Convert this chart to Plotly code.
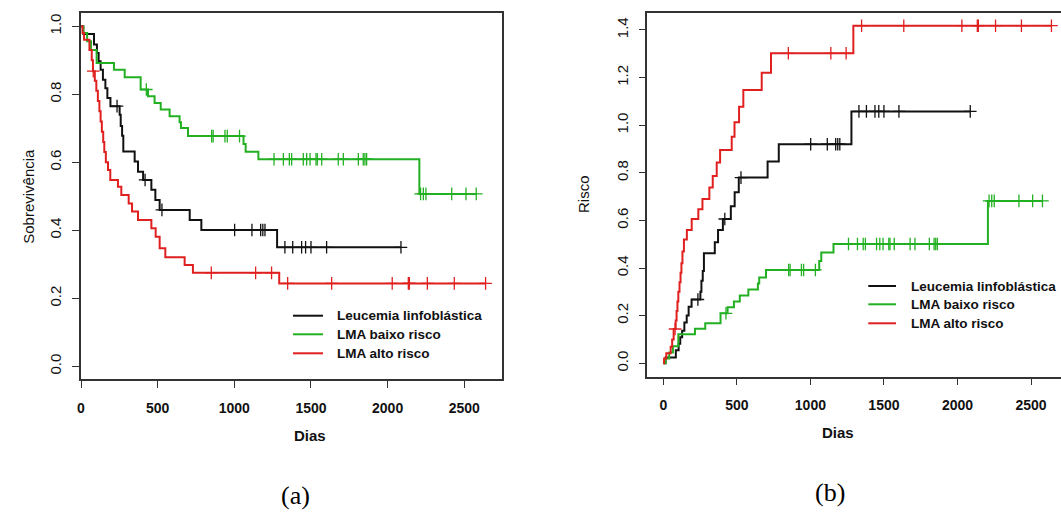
import plotly.graph_objects as go
import bisect

# ---------------- data ----------------
groups = ["Leucemia linfoblástica", "LMA baixo risco", "LMA alto risco"]
colors = ["#111111", "#22b022", "#e01f1f"]

# (a) Kaplan-Meier survival
leuc_t = [0, 15, 85, 104, 115, 128, 143, 159, 172, 192, 252, 259, 268, 276, 350, 372, 405, 459, 485, 513, 709, 785, 1279]
leuc_s = [1.0, 0.977, 0.946, 0.921, 0.897, 0.872, 0.843, 0.818, 0.789, 0.765, 0.740, 0.707, 0.678, 0.632, 0.602, 0.572, 0.548, 0.519, 0.489, 0.460, 0.430, 0.401, 0.350]
leuc_cens = [235, 418, 528, 1002, 1115, 1172, 1186, 1200, 1330, 1381, 1439, 1465, 1500, 1602, 2087]

baixo_t = [0, 15, 40, 65, 102, 215, 285, 389, 437, 480, 520, 578, 643, 652, 698, 1060, 1074, 1157, 2207]
baixo_s = [1.0, 0.980, 0.956, 0.930, 0.892, 0.872, 0.850, 0.814, 0.794, 0.774, 0.755, 0.735, 0.718, 0.701, 0.677, 0.654, 0.631, 0.609, 0.507]
baixo_cens = [426, 852, 862, 939, 954, 1034, 1259, 1320, 1359, 1374, 1450, 1472, 1494, 1533, 1541, 1570,
              1678, 1711, 1809, 1841, 1852, 1863, 2215, 2233, 2250, 2418, 2511, 2578]

alto_t = [0, 10, 20, 55, 70, 78, 90, 100, 110, 120, 128, 136, 145, 152, 162, 176, 191, 241, 263, 311, 333, 372, 459, 487, 513, 550, 676, 730, 1293]
alto_s = [1.0, 0.98, 0.96, 0.93, 0.90, 0.868, 0.84, 0.81, 0.78, 0.75, 0.72, 0.69, 0.66, 0.63, 0.60, 0.577, 0.548, 0.528, 0.504, 0.479, 0.455, 0.430, 0.406, 0.381, 0.347, 0.321, 0.298, 0.275, 0.244]
alto_cens = [80, 850, 1139, 1243, 1348, 1635, 2030, 2135, 2142, 2259, 2435, 2639]

# (b) cumulative hazard
leuc_h = [0.0, 0.024, 0.055, 0.082, 0.109, 0.137, 0.171, 0.201, 0.237, 0.268, 0.301, 0.347, 0.388, 0.462, 0.508, 0.560, 0.606, 0.660, 0.718, 0.780, 0.848, 0.920, 1.058]
baixo_h = [0.0, 0.02, 0.045, 0.072, 0.122, 0.145, 0.168, 0.21, 0.235, 0.26, 0.285, 0.31, 0.335, 0.36, 0.392, 0.43, 0.465, 0.501, 0.682]
alto_h_t = [0, 5, 20, 50, 60, 70, 84, 90, 96, 102, 110, 117, 123, 130, 140, 160, 193, 238, 266, 313, 336, 363, 386, 465, 484, 515, 544, 669, 732, 1292]
alto_h = [0.0, 0.02, 0.042, 0.07, 0.10, 0.144, 0.18, 0.22, 0.26, 0.30, 0.34, 0.38, 0.42, 0.47, 0.52, 0.56, 0.606, 0.647, 0.69, 0.738, 0.787, 0.843, 0.896, 0.952, 1.012, 1.078, 1.148, 1.22, 1.302, 1.418]

x_ticks = [0, 500, 1000, 1500, 2000, 2500]
ya_ticks = [0.0, 0.2, 0.4, 0.6, 0.8, 1.0]
yb_ticks = [0.0, 0.2, 0.4, 0.6, 0.8, 1.0, 1.2, 1.4]

surv_sets = [(leuc_t, leuc_s, leuc_cens), (baixo_t, baixo_s, baixo_cens), (alto_t, alto_s, alto_cens)]
haz_sets = [(leuc_t, leuc_h, leuc_cens), (baixo_t, baixo_h, baixo_cens), (alto_h_t, alto_h, alto_cens)]

W, H = 1061, 526
def px(x):
    return x / W
def py(y):
    return 1 - y / H

def step_at(ts, vs, t):
    i = bisect.bisect_right(ts, t) - 1
    return vs[max(i, 0)]

fig = go.Figure()

for axis_suffix, sets in (("", surv_sets), ("2", haz_sets)):
    for (ts, vs, cens), col, name in zip(sets, colors, groups):
        tend = max(cens)
        fig.add_trace(go.Scatter(
            x=ts + [tend], y=vs + [vs[-1]], mode="lines", line=dict(color=col, width=2, shape="hv"),
            name=name, showlegend=False, xaxis="x" + axis_suffix, yaxis="y" + axis_suffix, hoverinfo="skip"))
        fig.add_trace(go.Scatter(
            x=cens, y=[step_at(ts, vs, c) for c in cens], mode="markers",
            marker=dict(symbol="cross-thin", size=9, color=col, line=dict(color=col, width=1.3)),
            showlegend=False, xaxis="x" + axis_suffix, yaxis="y" + axis_suffix, hoverinfo="skip"))

axcol = "#333333"
tickfont_x = dict(family="Liberation Sans", size=14, color="#111111", weight="bold")
tickfont_y = dict(family="Liberation Sans", size=15, color="#111111")
common_x = dict(showgrid=False, zeroline=False, showline=True, linecolor=axcol, linewidth=1.5,
                ticks="outside", ticklen=7, tickwidth=1.3, tickcolor=axcol, tickvals=x_ticks,
                tickfont=tickfont_x, ticklabelstandoff=8, automargin=False)
common_y = dict(showgrid=False, zeroline=False, showline=True, linecolor=axcol, linewidth=1.5,
                ticks="outside", ticklen=7, tickwidth=1.3, tickcolor=axcol, tickangle=-90,
                tickfont=tickfont_y, ticklabelstandoff=5, automargin=False)

fig.update_layout(
    width=W, height=H, margin=dict(l=0, r=0, t=0, b=0, autoexpand=False),
    paper_bgcolor="white", plot_bgcolor="white",
    xaxis=dict(domain=[px(81), px(502.3)], range=[0, 2748], mirror=True, anchor="y", **common_x),
    yaxis=dict(domain=[py(379.3), py(13.3)], range=[-0.038, 1.038], mirror=True, anchor="x",
               tickvals=ya_ticks, ticktext=[f"{v:.1f}" for v in ya_ticks], **common_y),
    xaxis2=dict(domain=[px(647.3), 1.0], range=[-109, 2704], mirror=True, anchor="y2", **common_x),
    yaxis2=dict(domain=[py(376.7), py(12.7)], range=[-0.0563, 1.4725], mirror=False, anchor="x2",
                tickvals=yb_ticks, ticktext=[f"{v:.1f}" for v in yb_ticks], **common_y),
)

anns = []
shapes = []
# axis titles
anns.append(dict(text="Dias", x=px(291.6), y=py(446), xref="paper", yref="paper", showarrow=False,
                 font=dict(family="Liberation Sans", size=15, color="#111", weight="bold")))
anns.append(dict(text="Dias", x=px(856), y=py(442.5), xref="paper", yref="paper", showarrow=False,
                 font=dict(family="Liberation Sans", size=15, color="#111", weight="bold")))
anns.append(dict(text="Sobrevivência", x=px(18), y=py(196.3), xref="paper", yref="paper", showarrow=False,
                 textangle=-90, font=dict(family="Liberation Sans", size=15, color="#111")))
anns.append(dict(text="Risco", x=px(584), y=py(194), xref="paper", yref="paper", showarrow=False,
                 textangle=-90, font=dict(family="Liberation Sans", size=15, color="#111")))
# panel labels
anns.append(dict(text="(a)", x=px(279), y=py(512), xref="paper", yref="paper", showarrow=False,
                 font=dict(family="Liberation Serif", size=26, color="#000")))
anns.append(dict(text="(b)", x=px(846.7), y=py(509), xref="paper", yref="paper", showarrow=False,
                 font=dict(family="Liberation Serif", size=26, color="#000")))

# legends
legend_specs = [((293, 323, 335), [315.7, 334.3, 353.3]), ((868.3, 896, 909), [286, 304.3, 323.3])]
for (x0, x1, xt), rows in legend_specs:
    for name, col, yy in zip(groups, colors, rows):
        shapes.append(dict(type="line", xref="paper", yref="paper", x0=px(x0), x1=px(x1), y0=py(yy), y1=py(yy),
                           line=dict(color=col, width=2)))
        anns.append(dict(text=name, x=px(xt), y=py(yy), xref="paper", yref="paper", showarrow=False,
                         xanchor="left", yanchor="middle",
                         font=dict(family="Liberation Sans", size=13.5, color="#111", weight="bold")))

fig.update_layout(annotations=anns, shapes=shapes)
fig.write_html("out.html", post_script="document.body.style.margin='0px';",
               config={"displayModeBar": False})
